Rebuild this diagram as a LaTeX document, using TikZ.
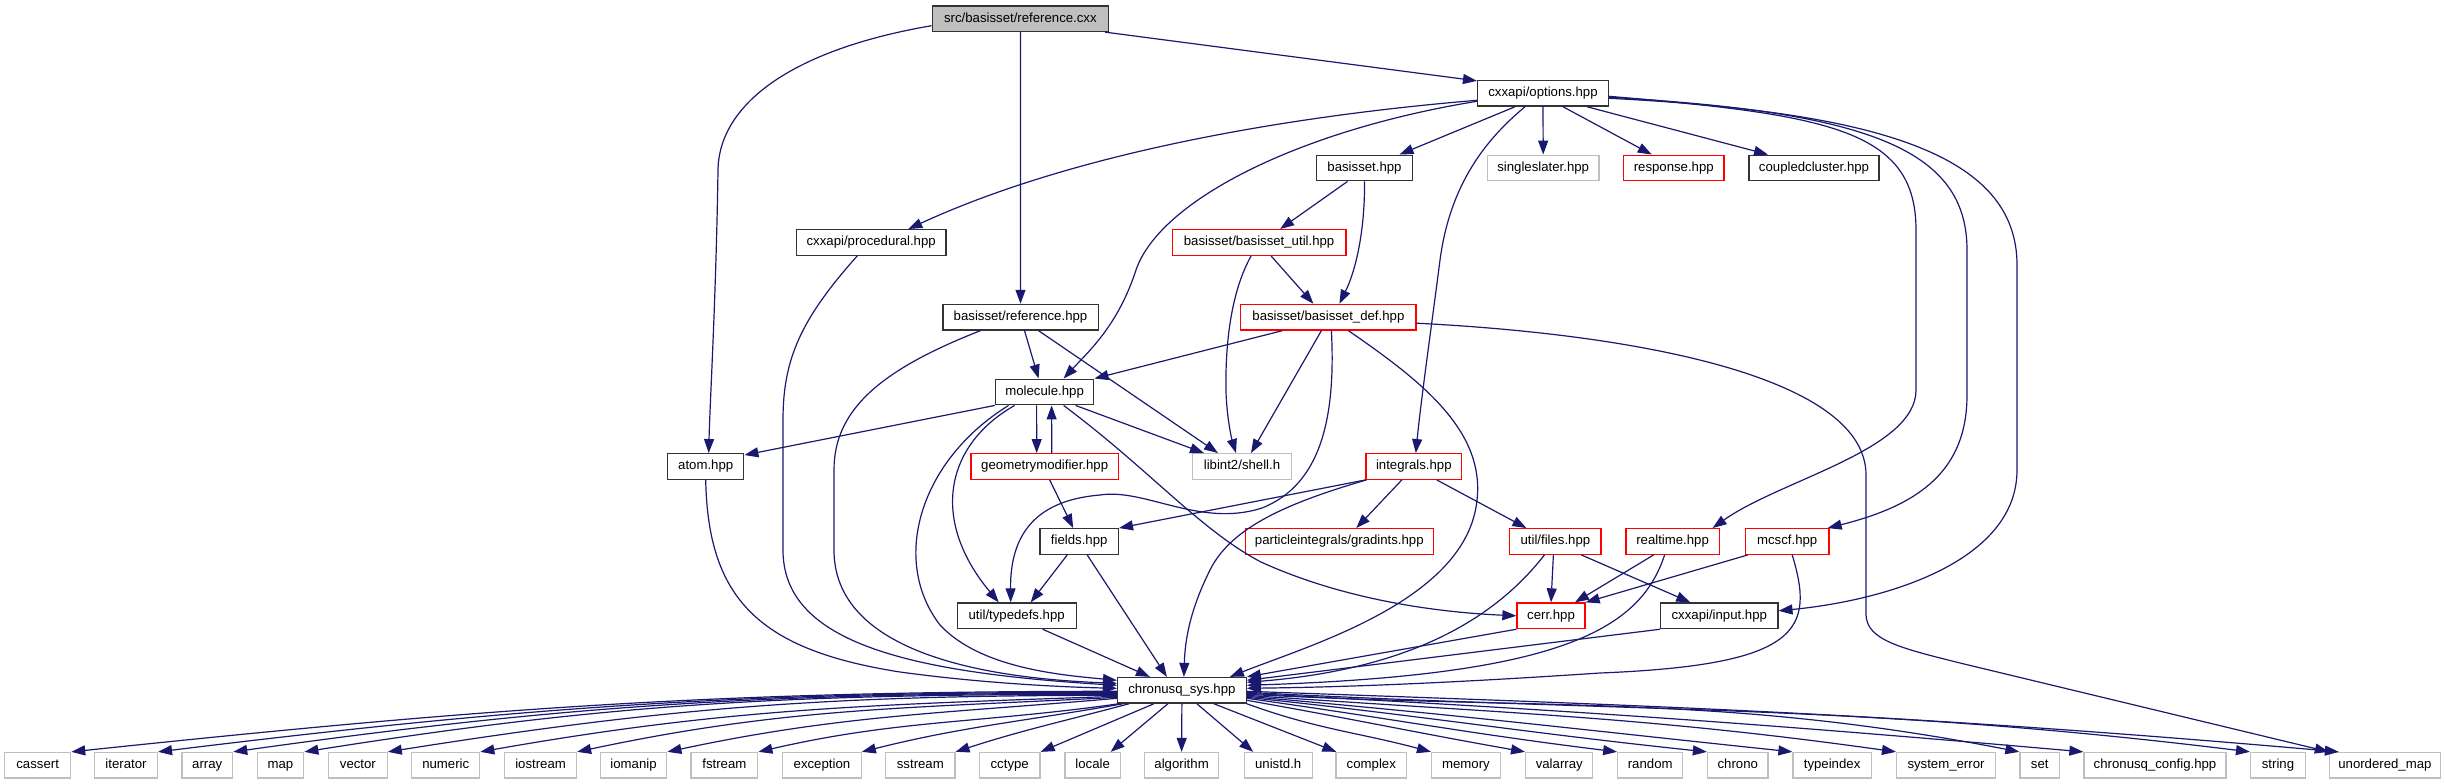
\documentclass[tikz,border=0pt]{standalone}
\usepackage{fontspec}
\setmainfont{Liberation Sans}
\usetikzlibrary{arrows.meta}
\definecolor{edgeblue}{HTML}{191970}
\definecolor{boxgray}{HTML}{BFBFBF}
\newcommand\dgfont{\fontsize{13.2}{15}\selectfont}
\begin{document}
\begin{tikzpicture}[x=1pt,y=-1pt,
  box/.style={rectangle, draw, line width=1.3pt, minimum height=25.6pt, inner sep=0pt,
    font=\dgfont, text height=9.6pt, text depth=2.9pt, fill=white},
  bk/.style={box, draw=black!80},
  rd/.style={box, draw=red},
  gy/.style={box, draw=boxgray},
  dep/.style={draw=edgeblue, line width=1.2pt, -{Triangle[length=14pt,width=10pt]}}]
\fill[white] (0,0) rectangle (2445,784);
\useasboundingbox (0,0) rectangle (2445,784);

% nodes
\node[bk, fill=boxgray, minimum width=176.4pt] (root) at (1020.4,18.7) {src/basisset/reference.cxx};
\node[bk, minimum width=130.8pt] (options) at (1543,93.3) {cxxapi/options.hpp};
\node[bk, minimum width=96pt] (basisset) at (1364.5,168) {basisset.hpp};
\node[gy, minimum width=111.6pt] (singleslater) at (1543.2,168) {singleslater.hpp};
\node[rd, minimum width=100.3pt] (response) at (1673.75,168) {response.hpp};
\node[bk, minimum width=130pt] (coupled) at (1814,168) {coupledcluster.hpp};
\node[bk, minimum width=149.5pt] (procedural) at (871.2,242.5) {cxxapi/procedural.hpp};
\node[rd, minimum width=173.8pt] (util) at (1259.1,242.5) {basisset/basisset\_util.hpp};
\node[bk, minimum width=155.3pt] (ref) at (1020.5,317.2) {basisset/reference.hpp};
\node[rd, minimum width=175.3pt] (def) at (1328.4,317.2) {basisset/basisset\_def.hpp};
\node[bk, minimum width=98.4pt] (molecule) at (1044.6,392) {molecule.hpp};
\node[bk, minimum width=76.1pt] (atom) at (705.7,466.5) {atom.hpp};
\node[rd, minimum width=147.5pt] (geom) at (1044.7,466.5) {geometrymodifier.hpp};
\node[gy, minimum width=99pt] (shell) at (1242,466.5) {libint2/shell.h};
\node[rd, minimum width=95.6pt] (integrals) at (1413.8,466.5) {integrals.hpp};
\node[bk, minimum width=78.4pt] (fields) at (1079.2,541.5) {fields.hpp};
\node[rd, minimum width=187.8pt] (gradints) at (1339.3,541.5) {particleintegrals/gradints.hpp};
\node[rd, minimum width=91.3pt] (files) at (1555.4,541.5) {util/files.hpp};
\node[rd, minimum width=93.2pt] (realtime) at (1672.6,541.5) {realtime.hpp};
\node[rd, minimum width=83.6pt] (mcscf) at (1787.2,541.5) {mcscf.hpp};
\node[bk, minimum width=119pt] (typedefs) at (1016.7,615.8) {util/typedefs.hpp};
\node[rd, minimum width=68pt] (cerr) at (1551,615.8) {cerr.hpp};
\node[bk, minimum width=117.1pt] (input) at (1719.3,615.8) {cxxapi/input.hpp};
\node[bk, minimum width=128.6pt] (sys) at (1181.9,690.3) {chronusq\_sys.hpp};

\node[gy, minimum width=65.9pt] (n-cassert) at (37.65,765.3) {cassert};
\node[gy, minimum width=62.8pt] (n-iterator) at (126,765.3) {iterator};
\node[gy, minimum width=50.7pt] (n-array) at (207.25,765.3) {array};
\node[gy, minimum width=46.5pt] (n-map) at (280.45,765.3) {map};
\node[gy, minimum width=58.6pt] (n-vector) at (357.9,765.3) {vector};
\node[gy, minimum width=67.9pt] (n-numeric) at (445.75,765.3) {numeric};
\node[gy, minimum width=71.8pt] (n-iostream) at (540.6,765.3) {iostream};
\node[gy, minimum width=66.5pt] (n-iomanip) at (633.55,765.3) {iomanip};
\node[gy, minimum width=66.8pt] (n-fstream) at (724.4,765.3) {fstream};
\node[gy, minimum width=78.5pt] (n-exception) at (821.95,765.3) {exception};
\node[gy, minimum width=69.1pt] (n-sstream) at (920.35,765.3) {sstream};
\node[gy, minimum width=60.6pt] (n-cctype) at (1009.7,765.3) {cctype};
\node[gy, minimum width=55.3pt] (n-locale) at (1092.65,765.3) {locale};
\node[gy, minimum width=74.2pt] (n-algorithm) at (1181.6,765.3) {algorithm};
\node[gy, minimum width=68pt] (n-unistd) at (1278.2,765.3) {unistd.h};
\node[gy, minimum width=70.6pt] (n-complex) at (1371.3,765.3) {complex};
\node[gy, minimum width=68.7pt] (n-memory) at (1465.95,765.3) {memory};
\node[gy, minimum width=67.1pt] (n-valarray) at (1559.25,765.3) {valarray};
\node[gy, minimum width=64.8pt] (n-random) at (1650.2,765.3) {random};
\node[gy, minimum width=60.5pt] (n-chrono) at (1737.75,765.3) {chrono};
\node[gy, minimum width=78.2pt] (n-typeindex) at (1832.1,765.3) {typeindex};
\node[gy, minimum width=98.8pt] (n-syserr) at (1946,765.3) {system\_error};
\node[gy, minimum width=39.4pt] (n-set) at (2039.7,765.3) {set};
\node[gy, minimum width=142pt] (n-config) at (2155,765.3) {chronusq\_config.hpp};
\node[gy, minimum width=54.7pt] (n-string) at (2277.95,765.3) {string};
\node[gy, minimum width=110.8pt] (n-umap) at (2384.9,765.3) {unordered\_map};

% edges from root
\draw[dep] ([yshift=-7pt]root.west) .. controls (790,50) and (719,105) .. (718,170)
  .. controls (716,300) and (710,400) .. ([xshift=3pt]atom.north);
\draw[dep] (root.south) -- (ref.north);
\draw[dep] ([xshift=-4pt]root.south east) -- ([yshift=-1pt]options.north west);

% edges from options
\draw[dep] ([yshift=-7pt]options.west) .. controls (1300,115) and (1080,150) .. ([xshift=37pt]procedural.north);
\draw[dep] ([yshift=-8pt]options.west) .. controls (1300,130) and (1160,200) .. (1136,270)
  .. controls (1118,325) and (1090,350) .. ([xshift=19pt]molecule.north);
\draw[dep] ([xshift=-28pt]options.south) -- ([xshift=35pt]basisset.north);
\draw[dep] (options.south) -- (singleslater.north);
\draw[dep] ([xshift=20pt]options.south) -- ([xshift=-22pt]response.north);
\draw[dep] ([xshift=44pt]options.south) -- ([xshift=-46pt]coupled.north);
\draw[dep] ([xshift=-18pt]options.south) .. controls (1485,140) and (1450,185) .. (1440,260)
  .. controls (1431,330) and (1421,400) .. ([xshift=2pt]integrals.north);
\draw[dep] ([yshift=-3pt]options.east) .. controls (1830,115) and (1916,130) .. (1916,230)
  -- (1916,390) .. controls (1916,450) and (1780,480) .. ([xshift=40pt]realtime.north);
\draw[dep] ([yshift=-4pt]options.east) .. controls (1870,112) and (1967,150) .. (1967,250)
  -- (1967,395) .. controls (1967,470) and (1920,505) .. ([xshift=-2pt]mcscf.north east);
\draw[dep] ([yshift=-5pt]options.east) .. controls (1880,112) and (2017,155) .. (2017,265)
  -- (2017,470) .. controls (2017,560) and (1890,600) .. ([yshift=5pt]input.east);

% basisset, util, def
\draw[dep] ([xshift=-17pt]basisset.south) -- ([xshift=21pt]util.north);
\draw[dep] (basisset.south) .. controls (1365,230) and (1356,270) .. ([xshift=11pt]def.north);
\draw[dep] ([xshift=12pt]util.south) -- ([xshift=-15pt]def.north);
\draw[dep] ([xshift=-8pt]util.south) .. controls (1232,290) and (1225,340) .. (1226,392)
  .. controls (1227,420) and (1232,440) .. ([xshift=-6pt]shell.north);
\draw[dep] ([xshift=-46pt]def.south) -- (molecule.north east);
\draw[dep] ([xshift=-7pt]def.south) -- ([xshift=9pt]shell.north);
\draw[dep] ([xshift=3pt]def.south) .. controls (1336,420) and (1320,485) .. (1262,508)
  .. controls (1200,528) and (1145,488) .. (1100,495)
  .. controls (1040,500) and (1010,530) .. ([xshift=-6pt]typedefs.north);
\draw[dep] ([xshift=20pt]def.south) .. controls (1420,380) and (1485,430) .. (1477,500)
  .. controls (1467,600) and (1310,645) .. ([xshift=48pt]sys.north);
\draw[dep] ([yshift=-6pt]def.east) .. controls (1650,335) and (1866,380) .. (1866,475)
  -- (1866,615) .. controls (1867,640) and (1900,648) .. (1960,663) -- (n-umap.north west);

% reference.hpp, procedural, atom
\draw[dep] ([xshift=4pt]ref.south) -- ([xshift=-6pt]molecule.north);
\draw[dep] ([xshift=18pt]ref.south) -- ([xshift=-24pt]shell.north);
\draw[dep] ([xshift=-40pt]ref.south) .. controls (880,370) and (834,410) .. (834,470)
  -- (834,550) .. controls (834,640) and (950,677) .. ([yshift=7pt]sys.west);
\draw[dep] ([xshift=-14pt]procedural.south) .. controls (800,320) and (783,360) .. (783,420)
  -- (783,550) .. controls (783,640) and (900,672) .. ([yshift=5pt]sys.west);
\draw[dep] (atom.south) .. controls (708,600) and (760,650) .. (900,672)
  .. controls (980,683) and (1060,687) .. ([yshift=2pt]sys.west);

% molecule
\draw[dep] (molecule.south west) -- ([yshift=-2pt]atom.north east);
\draw[dep] ([xshift=-8pt]molecule.south) -- ([xshift=-8pt]geom.north);
\draw[dep] ([xshift=7pt]geom.north) -- ([xshift=7pt]molecule.south);
\draw[dep] ([xshift=31pt]molecule.south) -- ([xshift=-38pt]shell.north);
\draw[dep] ([xshift=-30pt]molecule.south) .. controls (945,445) and (930,520) .. ([xshift=-18pt]typedefs.north);
\draw[dep] ([xshift=-36pt]molecule.south) .. controls (920,460) and (890,560) .. (940,625)
  .. controls (980,668) and (1060,675) .. ([yshift=10pt]sys.west);
\draw[dep] ([xshift=19pt]molecule.south) .. controls (1150,470) and (1200,530) .. (1261,562)
  .. controls (1340,598) and (1430,612) .. (cerr.west);

% geometrymodifier, integrals, fields, typedefs
\draw[dep] ([xshift=5pt]geom.south) -- ([xshift=-6pt]fields.north);
\draw[dep] (integrals.south west) -- (fields.north east);
\draw[dep] ([xshift=1pt]integrals.south west) .. controls (1280,505) and (1230,530) .. (1210,570)
  .. controls (1190,610) and (1185,640) .. ([xshift=2pt]sys.north);
\draw[dep] ([xshift=-12pt]integrals.south) -- ([xshift=17pt]gradints.north);
\draw[dep] ([xshift=23pt]integrals.south) -- ([xshift=-29pt]files.north);
\draw[dep] ([xshift=-12pt]fields.south) -- ([xshift=14pt]typedefs.north);
\draw[dep] ([xshift=8pt]fields.south) -- ([xshift=-15pt]sys.north);
\draw[dep] ([xshift=26pt]typedefs.south) -- ([xshift=-32pt]sys.north);

% files, realtime, mcscf, cerr, input
\draw[dep] ([xshift=-2pt]files.south) -- (cerr.north);
\draw[dep] ([xshift=26pt]files.south) -- ([xshift=-29pt]input.north);
\draw[dep] ([xshift=-11pt]files.south) .. controls (1490,625) and (1400,670) .. ([yshift=8pt]sys.east);
\draw[dep] ([xshift=-19pt]realtime.south) -- ([xshift=24pt]cerr.north);
\draw[dep] ([xshift=-8pt]realtime.south) .. controls (1640,630) and (1560,675) .. ([yshift=5pt]sys.east);
\draw[dep] ([xshift=3pt]mcscf.south west) -- (cerr.north east);
\draw[dep] ([xshift=5pt]mcscf.south) .. controls (1815,630) and (1800,665) .. (1600,673)
  .. controls (1450,683) and (1350,687) .. ([yshift=2pt]sys.east);
\draw[dep] (cerr.south west) -- (sys.north east);
\draw[dep] (input.south west) -- ([yshift=10pt]sys.east);

% chronusq_sys to system headers
\draw[dep] ([yshift=-1pt]sys.west) .. controls +(180:410pt) and +(6:410pt) .. (n-cassert.north east);
\draw[dep] ([yshift=-2pt]sys.west) .. controls +(180:377pt) and +(7:377pt) .. (n-iterator.north east);
\draw[dep] ([yshift=-3pt]sys.west) .. controls +(180:347pt) and +(8:347pt) .. (n-array.north east);
\draw[dep] ([yshift=-4pt]sys.west) .. controls +(180:320pt) and +(9:320pt) .. (n-map.north east);
\draw[dep] ([yshift=-5pt]sys.west) .. controls +(180:287pt) and +(9:287pt) .. (n-vector.north east);
\draw[dep] ([yshift=-6pt]sys.west) .. controls +(182:251pt) and +(10:251pt) .. (n-numeric.north east);
\draw[dep] ([yshift=-7pt]sys.west) .. controls +(183:213pt) and +(12:213pt) .. (n-iostream.north east);
\draw[dep] ([yshift=-8pt]sys.west) .. controls +(185:178pt) and +(12:178pt) .. (n-iomanip.north east);
\draw[dep] ([xshift=2pt]sys.south west) .. controls +(188:143pt) and +(13:143pt) .. (n-fstream.north east);
\draw[dep] ([xshift=6pt]sys.south west) .. controls +(190:105pt) and +(14:105pt) .. (n-exception.north east);
\draw[dep] ([xshift=12pt]sys.south west) .. controls +(195:71pt) and +(18:71pt) .. (n-sstream.north east);
\draw[dep] ([xshift=-28pt]sys.south) -- (n-cctype.north east);
\draw[dep] ([xshift=-14pt]sys.south) -- ([xshift=18pt]n-locale.north);
\draw[dep] (sys.south) -- (n-algorithm.north);
\draw[dep] ([xshift=15pt]sys.south) -- ([xshift=-25pt]n-unistd.north);
\draw[dep] ([xshift=32pt]sys.south) -- ([xshift=1pt]n-complex.north west);
\draw[dep] (sys.south east) .. controls +(-20:75pt) and +(165:75pt) .. (n-memory.north west);
\draw[dep] ([yshift=-10pt]sys.east) .. controls +(-10:111pt) and +(170:111pt) .. (n-valarray.north west);
\draw[dep] ([yshift=-8pt]sys.east) .. controls +(-8:147pt) and +(173:147pt) .. (n-random.north west);
\draw[dep] ([yshift=-7pt]sys.east) .. controls +(-6:182pt) and +(174:182pt) .. (n-chrono.north west);
\draw[dep] ([yshift=-6pt]sys.east) .. controls +(-5:215pt) and +(174:215pt) .. (n-typeindex.north west);
\draw[dep] ([yshift=-5pt]sys.east) .. controls +(-4:255pt) and +(172:255pt) .. (n-syserr.north west);
\draw[dep] ([yshift=-4pt]sys.east) .. controls +(-3:303pt) and +(169:303pt) .. (n-set.north west);
\draw[dep] ([yshift=-3pt]sys.east) .. controls +(-3:328pt) and +(175:328pt) .. (n-config.north west);
\draw[dep] ([yshift=-2pt]sys.east) .. controls +(-3:394pt) and +(173:394pt) .. (n-string.north west);
\draw[dep] ([yshift=-1pt]sys.east) .. controls +(-2:428pt) and +(175:428pt) .. ([xshift=10pt]n-umap.north west);
\end{tikzpicture}
\end{document}
